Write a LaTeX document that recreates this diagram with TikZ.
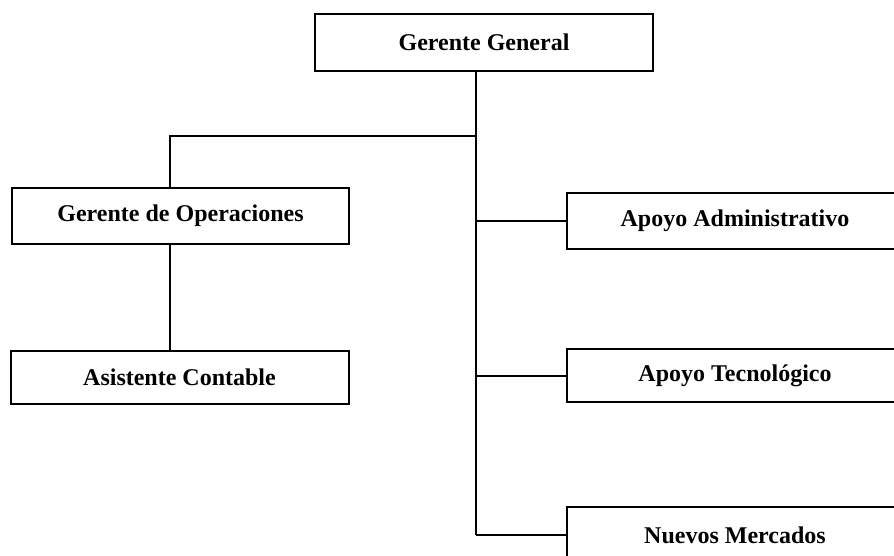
\documentclass[tikz,border=0pt]{standalone}
\usepackage{fontspec}
\setmainfont{Liberation Serif}
\usepackage{tikz}
\usetikzlibrary{positioning}

\tikzset{
    cargo/.style={draw, rectangle, line width=1pt, inner sep=0pt,
        font=\fontsize{12}{14}\selectfont\bfseries},
    enlace/.style={draw, line width=1pt}
}

\begin{document}
\begin{tikzpicture}[x=0.5pt, y=-0.5pt]
    \useasboundingbox (0,0) rectangle (894,556);
    \clip (0,0) rectangle (894,556);

    \node[cargo, minimum width=169pt, minimum height=28.5pt] (gerente) at (484,42.5) {Gerente General};

    \node[cargo, minimum width=168.5pt, minimum height=28pt] (operaciones) at (180.5,216) {Gerente de Operaciones};
    \node[cargo, minimum width=169pt, minimum height=26.5pt] (contable) at (179.5,377.5) {Asistente Contable};

    \node[cargo, minimum width=168pt, minimum height=28pt] (administrativo) at (735,221) {Apoyo Administrativo};
    \node[cargo, minimum width=168pt, minimum height=26.5pt] (tecnologico) at (735,375.5) {Apoyo Tecnológico};
    \node[cargo, minimum width=168pt, minimum height=28pt] (mercados) at (735,535) {Nuevos Mercados};

    % tronco y rama
    \coordinate (tronco) at (476,136);
    \coordinate (rama) at (170,136);

    \draw[enlace] (gerente.south -| tronco) -- (tronco |- mercados.west);
    \draw[enlace] (tronco) -- (rama) -- (operaciones.north -| rama);
    \draw[enlace] (operaciones.south -| rama) -- (contable.north -| rama);

    \draw[enlace] (administrativo.west) -- (administrativo.west -| tronco);
    \draw[enlace] (tecnologico.west) -- (tecnologico.west -| tronco);
    \draw[enlace] (mercados.west) -- (mercados.west -| tronco);
\end{tikzpicture}
\end{document}
